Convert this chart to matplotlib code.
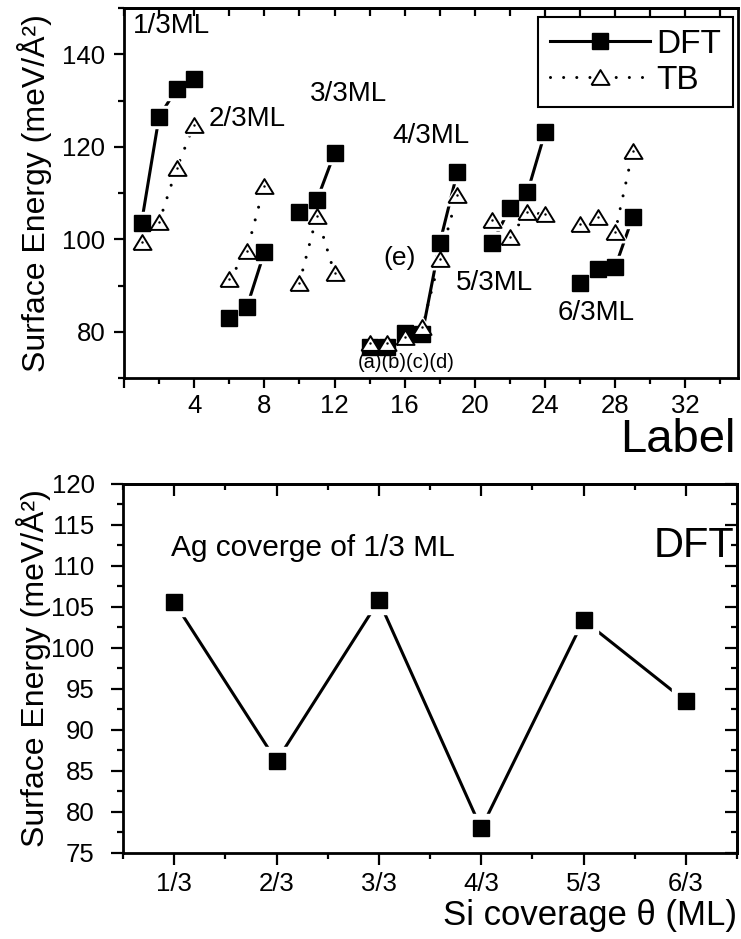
import numpy as np
import matplotlib
matplotlib.use('Agg')
import matplotlib.pyplot as plt
from matplotlib.lines import Line2D
from matplotlib.ticker import MultipleLocator

plt.rcParams['font.family'] = ['Liberation Sans', 'DejaVu Sans']

# --- top panel: surface energy vs structure label ---
label = [1, 2, 3, 4,
         6, 7, 8,
         10, 11, 12,
         14, 15, 16, 17, 18, 19,
         21, 22, 23, 24,
         26, 27, 28, 29]
group_size = [4, 3, 3, 6, 4, 4]
dft = [103.6, 126.5, 132.5, 134.7,
       83.0, 85.3, 97.2,
       106.0, 108.5, 118.6,
       76.7, 76.7, 79.8, 79.6, 99.2, 114.5,
       99.2, 106.8, 110.2, 123.1,
       90.5, 93.5, 94.0, 104.8]
tb = [99.3, 103.7, 115.3, 124.8,
      91.3, 97.4, 111.6,
      90.6, 105.1, 92.6,
      77.6, 77.6, 78.9, 81.0, 95.8, 109.5,
      104.2, 100.5, 105.8, 105.4,
      103.2, 104.8, 101.6, 119.0]

# --- bottom panel: DFT energy vs Si coverage (Ag 1/3 ML) ---
coverage = ['1/3', '2/3', '3/3', '4/3', '5/3', '6/3']
dft_ag13 = [105.6, 86.2, 105.8, 78.0, 103.4, 93.5]

TRI = [(-1, -0.82), (1, -0.82), (0, 0.82), (-1, -0.82)]
DOTS = (0, (0.001, 4.3))
LW = 2.2
SQ = 11.5
TRI_MS = 13

fig = plt.figure(figsize=(7.41, 9.39), dpi=100)

# ---------------- top panel ----------------
ax1 = fig.add_axes([124/741, 1-378/939, 614/741, 370/939])
splits = np.cumsum(group_size)[:-1]
for xs, ds, ts in zip(np.split(np.array(label), splits),
                      np.split(np.array(dft), splits),
                      np.split(np.array(tb), splits)):
    ax1.plot(xs, ds, '-', color='k', lw=LW, zorder=1)
    ax1.plot(xs, ts, color='k', lw=LW, ls=DOTS, dash_capstyle='round', zorder=1)
    ax1.plot(xs, ds, 's', color='white', ms=SQ + 5, zorder=2)
    ax1.plot(xs, ts, marker=TRI, ls='none', color='white', ms=TRI_MS + 5, zorder=2)
    ax1.plot(xs, ds, 's', color='k', ms=SQ, zorder=3)
    ax1.plot(xs, ts, marker=TRI, ls='none', mfc='white', mec='k', mew=1.4,
             ms=TRI_MS, zorder=4)
    ax1.plot(xs, ts, '.', color='k', ms=1.5, zorder=5)

ax1.set_xlim(0, 35)
ax1.set_ylim(70, 150)
ax1.set_xticks(range(0, 33, 4))
ax1.set_xticklabels(['' if t == 0 else str(t) for t in range(0, 33, 4)])
ax1.xaxis.set_minor_locator(MultipleLocator(2))
ax1.set_yticks([80, 100, 120, 140])
ax1.yaxis.set_minor_locator(MultipleLocator(10))
ax1.tick_params(axis='both', which='major', direction='out', length=7.5, width=1.6,
                labelsize=18.5)
ax1.tick_params(axis='both', which='minor', direction='out', length=4, width=1.6)
ax1.tick_params(axis='x', pad=4)
ax1.tick_params(axis='y', pad=6)
top1 = ax1.secondary_xaxis('top')
top1.set_xticks(range(0, 35, 2))
top1.tick_params(direction='in', length=6, width=1.6, labeltop=False)
for ax in (ax1, top1):
    for sp in ax.spines.values():
        sp.set_linewidth(2)

ax1.set_ylabel('Surface Energy (meV/Å²)', fontsize=23)
ax1.yaxis.set_label_coords(-0.118, 0.5)

ax1.text(0.5, 146.2, '1/3ML', fontsize=20, va='center')
ax1.text(4.8, 126.0, '2/3ML', fontsize=20, va='center')
ax1.text(10.6, 131.4, '3/3ML', fontsize=20, va='center')
ax1.text(15.3, 122.4, '4/3ML', fontsize=20, va='center')
ax1.text(14.8, 95.9, '(e)', fontsize=19, va='center')
ax1.text(18.9, 90.5, '5/3ML', fontsize=20, va='center')
ax1.text(24.7, 84.1, '6/3ML', fontsize=20, va='center')
ax1.text(13.3, 73.3, '(a)(b)(c)(d)', fontsize=14.5, va='center')

handles = [
    Line2D([0], [0], color='k', lw=LW, marker='s', ms=SQ),
    Line2D([0], [0], color='k', lw=LW, ls=DOTS, dash_capstyle='round',
           marker=TRI, ms=TRI_MS, mfc='white', mec='k', mew=1.4),
]
leg = ax1.legend(handles, ['DFT', 'TB'], loc='upper right',
                 bbox_to_anchor=(0.992, 0.976), borderaxespad=0,
                 fancybox=False, edgecolor='k', fontsize=24, numpoints=1,
                 handlelength=3.0, handletextpad=0.2, labelspacing=0.15,
                 borderpad=0.35, framealpha=1)
leg.get_frame().set_linewidth(1.5)

fig.text(735/741, 1-452/939, 'Label', fontsize=34, ha='right', va='baseline')

# ---------------- bottom panel ----------------
ax2 = fig.add_axes([123/741, 1-853/939, 614/741, 369/939])
xpos = np.arange(1, len(coverage) + 1)
ax2.plot(xpos, dft_ag13, '-', color='k', lw=LW, zorder=1)
ax2.plot(xpos, dft_ag13, 's', color='white', ms=SQ + 8, zorder=2)
ax2.plot(xpos, dft_ag13, 's', color='k', ms=SQ, zorder=3)

ax2.set_xlim(0.5, 6.5)
ax2.set_ylim(75, 120)
ax2.set_xticks(xpos)
ax2.set_xticklabels(coverage)
ax2.xaxis.set_minor_locator(MultipleLocator(0.5))
ax2.yaxis.set_major_locator(MultipleLocator(5))
ax2.yaxis.set_minor_locator(MultipleLocator(2.5))
ax2.tick_params(axis='both', which='major', direction='out', length=8.5, width=1.6,
                labelsize=18.5)
ax2.tick_params(axis='both', which='minor', direction='out', length=4.5, width=1.6)
ax2.tick_params(axis='x', pad=5)
ax2.tick_params(axis='y', pad=12)
top2 = ax2.secondary_xaxis('top')
top2.set_xticks(xpos)
top2.xaxis.set_minor_locator(MultipleLocator(0.5))
top2.tick_params(which='major', direction='in', length=8.5, width=1.6, labeltop=False)
top2.tick_params(which='minor', direction='in', length=4.5, width=1.6)
right2 = ax2.secondary_yaxis('right')
right2.yaxis.set_major_locator(MultipleLocator(5))
right2.yaxis.set_minor_locator(MultipleLocator(2.5))
right2.tick_params(which='major', direction='in', length=8.5, width=1.6, labelright=False)
right2.tick_params(which='minor', direction='in', length=4.5, width=1.6)
for ax in (ax2, top2, right2):
    for sp in ax.spines.values():
        sp.set_linewidth(2)

ax2.set_ylabel('Surface Energy (meV/Å²)', fontsize=23)
ax2.yaxis.set_label_coords(-0.118, 0.5)

ax2.text(0.97, 112.2, 'Ag coverge of 1/3 ML', fontsize=21.5, va='center')
ax2.text(6.47, 112.4, 'DFT', fontsize=30, va='center', ha='right')

fig.text(737/741, 1-925/939, 'Si coverage θ (ML)', fontsize=25, ha='right', va='baseline')

fig.savefig('out.png', dpi=100)
